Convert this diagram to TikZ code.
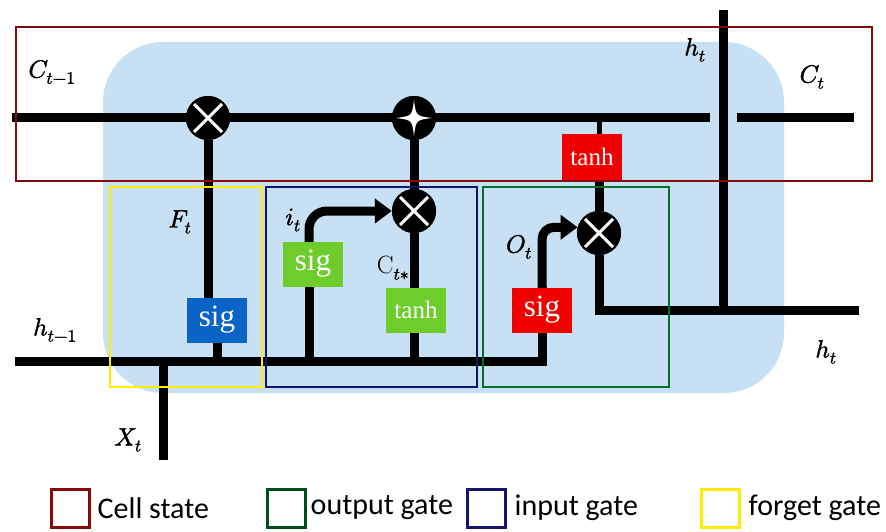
\documentclass[tikz,border=0pt]{standalone}
\usepackage{fontspec}
\usepackage{unicode-math}
\setmathfont{Latin Modern Math}[FakeBold=1.6]
\setsansfont{Carlito}
\newfontfamily\actfont{Liberation Serif}
\usepackage{xcolor}
\definecolor{cellbg}{RGB}{200,224,243}
\definecolor{cellred}{RGB}{135,10,10}
\definecolor{inblue}{RGB}{20,20,110}
\definecolor{outgreen}{RGB}{0,110,40}
\definecolor{fgyellow}{RGB}{255,236,0}
\definecolor{sigblue}{RGB}{10,100,200}
\definecolor{actgreen}{RGB}{110,205,45}
\definecolor{actred}{RGB}{240,0,0}
\usepackage{tikz}
\usetikzlibrary{arrows.meta,positioning,calc}
\tikzset{
  wire/.style={line width=9pt,draw=black},
  tap/.style={line width=5pt,draw=black},
  flow/.style={wire,-{Triangle[length=17pt,width=24pt]}},
  op/.style={circle,fill=black,minimum size=44pt,inner sep=0pt},
  act/.style={minimum width=60pt,minimum height=45pt,inner sep=0pt,%
    text=white,font=\actfont\fontsize{31}{31}\selectfont},
  actsmall/.style={act,font=\actfont\fontsize{25}{25}\selectfont},
  gatebox/.style={line width=2.5pt},
  lbl/.style={font=\fontsize{25}{27}\selectfont},
  keybox/.style={line width=3pt,minimum size=38pt,inner sep=0pt},
  keytext/.style={anchor=west,inner sep=0pt,font=\sffamily\fontsize{30}{32}\selectfont},
}
\newcommand{\timessign}[1]{%
  \draw[white,line width=3pt] ($(#1)+(-14,-14)$) -- ($(#1)+(14,14)$)
    ($(#1)+(-14,14)$) -- ($(#1)+(14,-14)$);}

\begin{document}
\begin{tikzpicture}[x=1pt,y=-1pt]
\useasboundingbox (0,0) rectangle (886,532);
% cell body
\fill[cellbg,rounded corners=60pt] (103,42) rectangle (784,393);
% operators and activations
\node[op] (fmul) at (208,118) {};
\node[op] (cadd) at (414,118) {};
\node[op] (imul) at (414,211) {};
\node[op] (omul) at (599,233) {};
\coordinate (cin) at (12,118);
\coordinate (cend) at (710,118);
\coordinate (cnext) at (737,118);
\coordinate (cout) at (854,118);
\coordinate (ctap) at (599,118);
\coordinate (htop) at (723,10);
\coordinate (hend) at (859,310);
\coordinate (hprev) at (15,361);
\coordinate (xin) at (163,460);
% wires
\draw[wire] (cin) -- (cend);
\draw[wire] (cnext) -- (cout);
\draw[wire] (htop) -- (723,310);
\draw[wire] (omul) |- (hend);
\draw[wire] (hprev) -| (542,287);
\draw[wire] (xin) -- (163,361);
\draw[wire] (fmul) -- (208,298);
\draw[wire] (217,336) -- (217,361);
\draw[wire] (cadd) -- (imul);
\draw[wire] (imul) -- (414,290);
\draw[wire] (414,330) -- (414,361);
\draw[wire] (309,287) -- (309,361);
\draw[tap] (ctap) -- (599,140);
\draw[wire] (599,175) -- (omul);
\draw[flow,rounded corners=18pt] (309,245) |- (imul.west);
\draw[flow,rounded corners=12pt] (542,290) |- (omul.165);
% operator signs
\node[op] at (fmul) {};
\node[op] at (imul) {};
\node[op] at (omul) {};
\node[op] at (cadd) {};
\timessign{fmul}
\timessign{imul}
\timessign{omul}
\fill[white] ($(cadd)+(0,-18)$) .. controls ($(cadd)+(2,-2)$) .. ($(cadd)+(18,0)$)
  .. controls ($(cadd)+(2,2)$) .. ($(cadd)+(0,18)$)
  .. controls ($(cadd)+(-2,2)$) .. ($(cadd)+(-18,0)$)
  .. controls ($(cadd)+(-2,-2)$) .. cycle;
% gate frames
\draw[cellred,gatebox] (16,27) rectangle (872,181);
\draw[fgyellow,gatebox] (110,187) rectangle (262,387);
\draw[inblue,gatebox] (266,187) rectangle (477,387);
\draw[outgreen,gatebox] (483,187) rectangle (669,387);
% activations
\node[act,fill=sigblue] (fsig) at (217,320) {sig};
\node[act,fill=actgreen] (isig) at (313,264) {sig};
\node[actsmall,fill=actgreen] (itanh) at (416,310) {tanh};
\node[act,fill=actred] (osig) at (542,310) {sig};
\node[actsmall,fill=actred,minimum height=46pt] (ctanh) at (592,157) {tanh};
% labels
\node[lbl] (lcprev) at (52,72) {$C_{t-1}$};
\node[lbl] (lhtop) at (695,50) {$h_t$};
\node[lbl] (lcnext) at (812,77) {$C_t$};
\node[lbl] (lft) at (180,222) {$F_t$};
\node[lbl] (lit) at (293,220) {$i_t$};
\node[lbl] (lcand) at (393,268) {$\mathrm{C}_{t*}$};
\node[lbl] (lot) at (519,247) {$O_t$};
\node[lbl] (lhprev) at (55,330) {$h_{t-1}$};
\node[lbl] (lxt) at (128,440) {$X_t$};
\node[lbl] (lhout) at (826,352) {$h_t$};
% legend
\node[keybox,draw=cellred] (kcell) at (70,508) {};
\node[keytext,right=7pt of kcell] {Cell state};
\node[keybox,draw=outgreen!70!black] (kout) at (286,508) {};
\node[keytext,right=4pt of kout] {output gate};
\node[keybox,draw=inblue] (kin) at (486,508) {};
\node[keytext,right=8pt of kin] {input gate};
\node[keybox,draw=fgyellow] (kfg) at (720,508) {};
\node[keytext,right=8pt of kfg] {forget gate};
\end{tikzpicture}
\end{document}
